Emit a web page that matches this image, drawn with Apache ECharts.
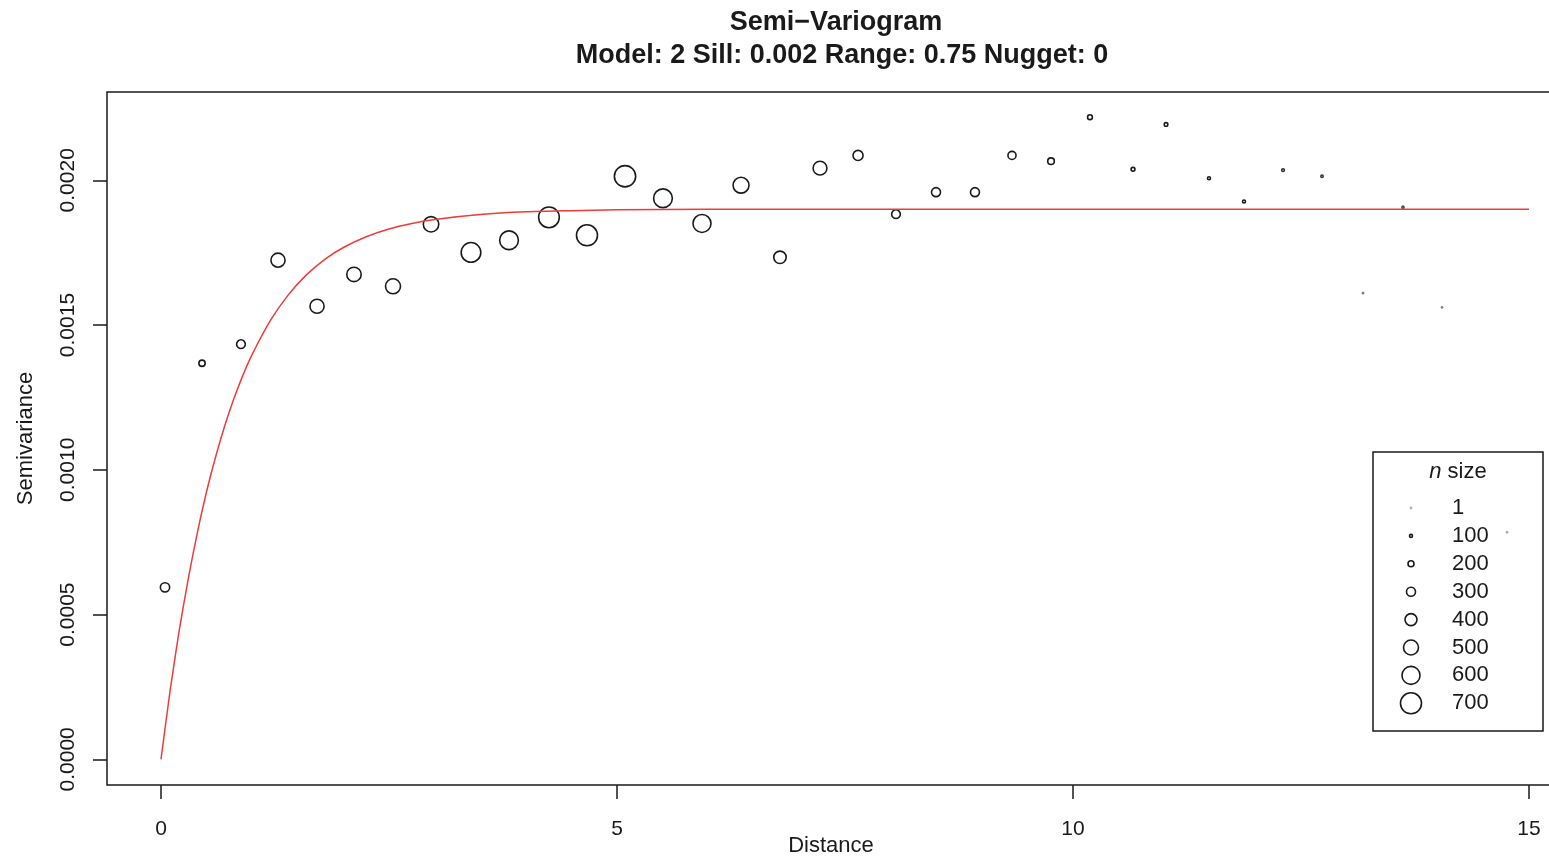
<!DOCTYPE html>
<html style="height: 100%">
    <head>
        <meta charset="utf-8">
    </head>
    <body style="height: 100%; margin: 0; background: #fff">
        <div id="container" style="width: 1549px; height: 863px"></div>

        <script type="text/javascript" src="https://cdn.jsdelivr.net/npm/echarts@6/dist/echarts.min.js"></script>
        <script type="text/javascript">
// empirical semivariogram: lag distance, semivariance, number of pairs
var lagX = [0.044, 0.45, 0.877, 1.283, 1.711, 2.116, 2.544, 2.961, 3.399, 3.816,
            4.254, 4.671, 5.088, 5.504, 5.932, 6.360, 6.787, 7.226, 7.643, 8.059,
            8.498, 8.925, 9.331, 9.759, 10.186, 10.658, 11.020, 11.491, 11.875, 12.303,
            12.730, 13.180, 13.618, 14.046, 14.759];
var gammaY = [0.000594, 0.001368, 0.001434, 0.001724, 0.001565, 0.001675, 0.001634, 0.001848, 0.001751, 0.001793,
              0.001872, 0.001810, 0.002014, 0.001938, 0.001851, 0.001983, 0.001734, 0.002042, 0.002086, 0.001883,
              0.001959, 0.001959, 0.002086, 0.002066, 0.002218, 0.002038, 0.002193, 0.002007, 0.001927, 0.002035,
              0.002014, 0.001610, 0.001907, 0.001561, 0.000784];
var pairCount = [310, 210, 290, 470, 470, 480, 500, 515, 655, 625,
                 690, 700, 710, 625, 600, 530, 415, 460, 335, 290,
                 300, 300, 270, 220, 160, 130, 120, 100, 100, 90,
                 80, 40, 70, 30, 5];

// fitted model line
var curveX = [0, 0.1, 0.2, 0.3, 0.4, 0.5, 0.6, 0.7, 0.8, 0.9, 1.0, 1.2, 1.4, 1.6, 1.8, 2.0,
              2.25, 2.5, 2.75, 3.0, 3.5, 4.0, 4.5, 5.0, 6.0, 8.0, 10.0, 12.0, 15.0];
var curveY = [0, 0.000237, 0.000445, 0.000625, 0.000785, 0.000925, 0.001046, 0.001153, 0.001246, 0.001328,
              0.001399, 0.001516, 0.001606, 0.001675, 0.001728, 0.001768, 0.001805, 0.001832, 0.001851, 0.001865,
              0.001882, 0.001891, 0.001895, 0.001898, 0.0019, 0.0019, 0.0019, 0.0019, 0.0019];

var legendSizes = [1, 100, 200, 300, 400, 500, 600, 700];
var xTicks = [0, 5, 10, 15];
var yTicks = [0, 0.0005, 0.0010, 0.0015, 0.0020];

var FONT = "'Liberation Sans', Arial, Helvetica, sans-serif";
var INK = '#1a1a1a';

function sizeOf(n) {
    return Math.max(1.2, n * 0.03);
}

var dom = document.getElementById("container");
var myChart = echarts.init(dom);
var option;

var pointData = lagX.map(function (x, i) {
    var n = pairCount[i];
    return {
        value: [x, gammaY[i], n],
        itemStyle: { opacity: n < 100 ? 0.35 + n / 160 : 1 }
    };
});

var legendGraphics = [
    {
        type: 'rect',
        shape: { x: 1373, y: 452, width: 170, height: 279 },
        style: { fill: 'none', stroke: INK, lineWidth: 1.5 }
    },
    {
        type: 'text',
        x: 1458, y: 472,
        style: {
            text: '{i|n} size',
            font: '22px ' + FONT,
            fill: INK,
            align: 'center',
            verticalAlign: 'middle',
            rich: { i: { fontStyle: 'italic', fontSize: 22, fontFamily: FONT, fill: INK } }
        }
    }
];
legendSizes.forEach(function (n, i) {
    var cy = 508 + i * 27.9;
    legendGraphics.push({
        type: 'circle',
        shape: { cx: 1411, cy: cy, r: sizeOf(n) / 2 },
        style: { fill: 'none', stroke: INK, lineWidth: 1.6, opacity: n < 100 ? 0.35 : 1 }
    });
    legendGraphics.push({
        type: 'text',
        x: 1452, y: cy,
        style: { text: String(n), font: '22px ' + FONT, fill: INK, align: 'left', verticalAlign: 'middle' }
    });
});

option = {
    backgroundColor: '#fff',
    animation: false,
    title: [
        {
            text: 'Semi−Variogram',
            left: 831, top: 4,
            textAlign: 'center',
            textStyle: { fontFamily: FONT, fontSize: 27, fontWeight: 'bold', color: INK }
        },
        {
            text: 'Model: 2 Sill: 0.002 Range: 0.75 Nugget: 0',
            left: 837, top: 37,
            textAlign: 'center',
            textStyle: { fontFamily: FONT, fontSize: 27, fontWeight: 'bold', color: INK }
        }
    ],
    grid: {
        left: 107, top: 92, width: 1448, height: 693,
        outerBoundsMode: 'none',
        containLabel: false,
        show: true,
        borderColor: INK,
        borderWidth: 1.5,
        backgroundColor: 'transparent'
    },
    xAxis: {
        type: 'value',
        min: -0.592,
        max: 15.285,
        name: 'Distance',
        nameLocation: 'middle',
        nameGap: 50,
        nameMoveOverlap: false,
        nameTextStyle: { fontFamily: FONT, fontSize: 22, color: INK },
        axisLine: { show: false, onZero: false },
        splitLine: { show: false },
        axisTick: {
            length: 14,
            customValues: xTicks,
            lineStyle: { color: INK, width: 1.5 }
        },
        axisLabel: {
            customValues: xTicks,
            margin: 34,
            fontFamily: FONT, fontSize: 21, color: INK
        }
    },
    yAxis: {
        type: 'value',
        min: -0.0000887,
        max: 0.002305,
        name: 'Semivariance',
        nameLocation: 'middle',
        nameGap: 70,
        nameMoveOverlap: false,
        nameTextStyle: { fontFamily: FONT, fontSize: 22, color: INK },
        axisLine: { show: false, onZero: false },
        splitLine: { show: false },
        axisTick: {
            length: 14,
            customValues: yTicks,
            lineStyle: { color: INK, width: 1.5 }
        },
        axisLabel: {
            customValues: yTicks,
            rotate: 90,
            margin: 28,
            fontFamily: FONT, fontSize: 21, color: INK,
            formatter: function (v) { return v.toFixed(4); }
        }
    },
    graphic: legendGraphics,
    series: [
        {
            type: 'scatter',
            data: pointData,
            symbol: 'circle',
            symbolSize: function (val) { return sizeOf(val[2]); },
            itemStyle: { color: 'none', borderColor: INK, borderWidth: 1.6 },
            z: 2
        },
        {
            type: 'line',
            data: curveX.map(function (x, i) { return [x, curveY[i]]; }),
            showSymbol: false,
            smooth: 0.25,
            lineStyle: { color: '#ee3b3b', width: 1.5 },
            z: 3
        }
    ]
};

if (option && typeof option === 'object') {
    myChart.setOption(option);
}
        </script>
    </body>
</html>
